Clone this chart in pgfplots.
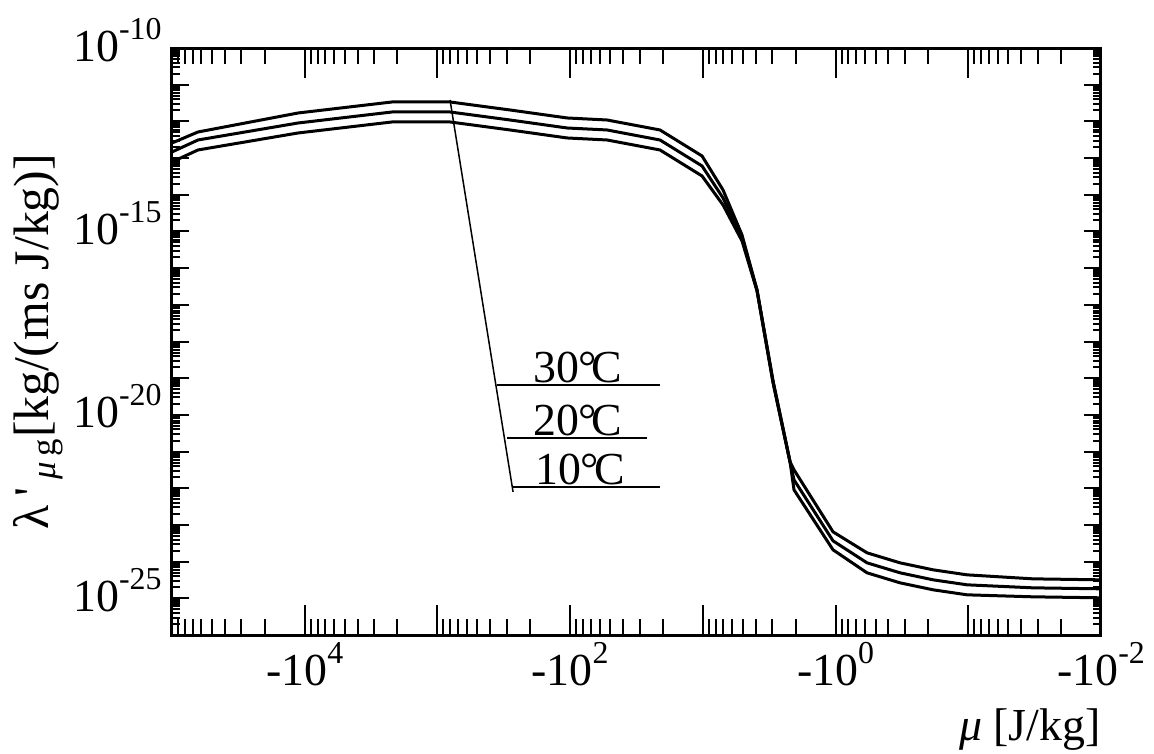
\documentclass[border=0pt]{standalone}
\usepackage{fontspec}
\setmainfont{Liberation Serif}
\usepackage{pgfplots}
\pgfplotsset{compat=1.18}
\newcommand\xs[1]{\raisebox{11bp}{\fontsize{16}{17}\selectfont #1}}
\newcommand\ys[1]{\raisebox{11bp}{\fontsize{16}{17}\selectfont #1}}
\begin{document}
\fontsize{23}{27}\selectfont
\begin{tikzpicture}
\begin{axis}[
  scale only axis, width=464.5bp, height=293.5bp,
  xmode=log, ymode=log, x dir=reverse,
  xmin=1e-2, xmax=1e5, ymin=1e-26, ymax=1e-10,
  tick align=inside,
  every tick/.style={black, line width=1bp},
  xtick={1e-2,1e-1,1,1e1,1e2,1e3,1e4,1e5},
  axis line style={line width=1.5bp, black},
  major tick length=8.5bp, minor tick length=4bp,
  xtick style={draw=none},
  xticklabels={-10\xs{-2},,-10\xs{0},,-10\xs{2},,-10\xs{4},},
  ytick={1e-26,1e-25,1e-24,1e-23,1e-22,1e-21,1e-20,1e-19,1e-18,1e-17,1e-16,1e-15,1e-14,1e-13,1e-12,1e-11,1e-10},
  yticklabels={,10\ys{-25},,,,,10\ys{-20},,,,,10\ys{-15},,,,,10\ys{-10}},
  /pgf/number format/assume math mode=true,
  ticklabel style={font=\fontsize{23}{27}\selectfont, inner sep=0pt},
  xticklabel style={anchor=base, yshift=-25bp},
  yticklabel style={anchor=base east, xshift=-5bp, yshift=-6.5bp},
  xlabel={\textit{μ} [J/kg]},
  xlabel style={at={(axis description cs:1,-0.179)}, anchor=base east, inner sep=0pt, font=\fontsize{23}{27}\selectfont},
  ylabel={λ\,\textquotesingle\,\textsubscript{\textit{μ}\,g}[kg/(ms J/kg)]},
  ylabel style={at={(axis description cs:-0.144,0.5)}, anchor=center, rotate=0, font=\fontsize{25}{29}\selectfont},
  clip=true,
]
% 30 C
\addplot[black, line width=1.5bp, no marks] coordinates {
(100000,2.576e-13) (63680,5.14e-13) (11220,1.694e-12) (2198,3.381e-12) (803.5,3.381e-12)
(283.8,2.046e-12) (105.4,1.239e-12) (52.72,1.091e-12) (21.04,5.834e-13) (10.14,1.140e-13)
(7.047,1.352e-14) (5.070,8.035e-16) (3.908,2.547e-17) (2.958,8.433e-20) (2.203,5.236e-22)
(2.056,3.170e-22) (1.045,6.486e-24) (0.5794,1.738e-24) (0.3266,9.268e-25) (0.1841,5.98e-25)
(0.1021,4.365e-25) (0.03251,3.396e-25) (0.01,3.192e-25)
};
% 20 C
\addplot[black, line width=1.5bp, no marks] coordinates {
(100000,1.466e-13) (63680,3.112e-13) (11220,9.036e-13) (2198,1.803e-12) (803.5,1.803e-12)
(283.8,1.091e-12) (105.4,6.607e-13) (52.72,5.834e-13) (21.04,3.112e-13) (10.14,6.095e-14)
(7.047,8.185e-15) (5.070,6.653e-16) (3.908,2.547e-17) (2.958,7.925e-20) (2.203,5.236e-22)
(2.056,1.694e-22) (1.045,3.690e-24) (0.5794,9.268e-25) (0.3266,4.955e-25) (0.1841,3.192e-25)
(0.1021,2.333e-25) (0.03251,1.932e-25) (0.01,1.816e-25)
};
% 10 C
\addplot[black, line width=1.5bp, no marks] coordinates {
(100000,7.834e-14) (63680,1.663e-13) (11220,4.831e-13) (2198,9.638e-13) (803.5,9.638e-13)
(283.8,5.834e-13) (105.4,3.532e-13) (52.72,3.112e-13) (21.04,1.663e-13) (10.14,3.251e-14)
(7.047,5.272e-15) (5.070,5.508e-16) (3.908,2.393e-17) (2.958,7.447e-20) (2.203,5.236e-22)
(2.056,9.036e-23) (1.045,2.099e-24) (0.5794,4.955e-25) (0.3266,2.642e-25) (0.1841,1.706e-25)
(0.1021,1.245e-25) (0.03251,1.099e-25) (0.01,1.033e-25)
};
% annotation
\draw[line width=0.75bp] (axis cs:803.5,3.83e-12) -- (axis cs:269.2,7.98e-23);
\draw[line width=0.75bp] (axis cs:355.6,6.56e-20) -- (axis cs:21.04,6.56e-20);
\draw[line width=0.75bp] (axis cs:298.9,2.36e-21) -- (axis cs:26.34,2.36e-21);
\draw[line width=0.75bp] (axis cs:274.2,1.09e-22) -- (axis cs:21.04,1.09e-22);
\node[anchor=base, inner sep=0pt, font=\fontsize{23}{27}\selectfont] at (axis cs:87.1,7.45e-20) {30\kern-0.03em°\kern-0.1em C};
\node[anchor=base, inner sep=0pt, font=\fontsize{23}{27}\selectfont] at (axis cs:87.1,2.68e-21) {20\kern-0.03em°\kern-0.1em C};
\node[anchor=base, inner sep=0pt, font=\fontsize{23}{27}\selectfont] at (axis cs:84.0,1.24e-22) {10\kern-0.03em°\kern-0.1em C};
\coordinate (sw) at (rel axis cs:0,0);
\coordinate (ne) at (rel axis cs:1,1);
\end{axis}
\begin{axis}[
  scale only axis, width=464.5bp, height=293.5bp,
  xmode=log, ymode=log, x dir=reverse,
  xmin=1e-2, xmax=1e5, ymin=1e-26, ymax=1e-10,
  tick align=inside,
  every tick/.style={black, line width=1bp},
  xtick={1e-2,1e-1,1,1e1,1e2,1e3,1e4,1e5},
  axis line style={draw=none},
  major tick length=15bp, minor tick length=8bp,
  xticklabels={},
  xticklabel style={inner sep=0pt},
  ytick=\empty,
]
\end{axis}
\pgfresetboundingbox
\path ([xshift=-86bp,yshift=-59.5bp]sw) rectangle ([xshift=26.5bp,yshift=24bp]ne);
\end{tikzpicture}
\end{document}
